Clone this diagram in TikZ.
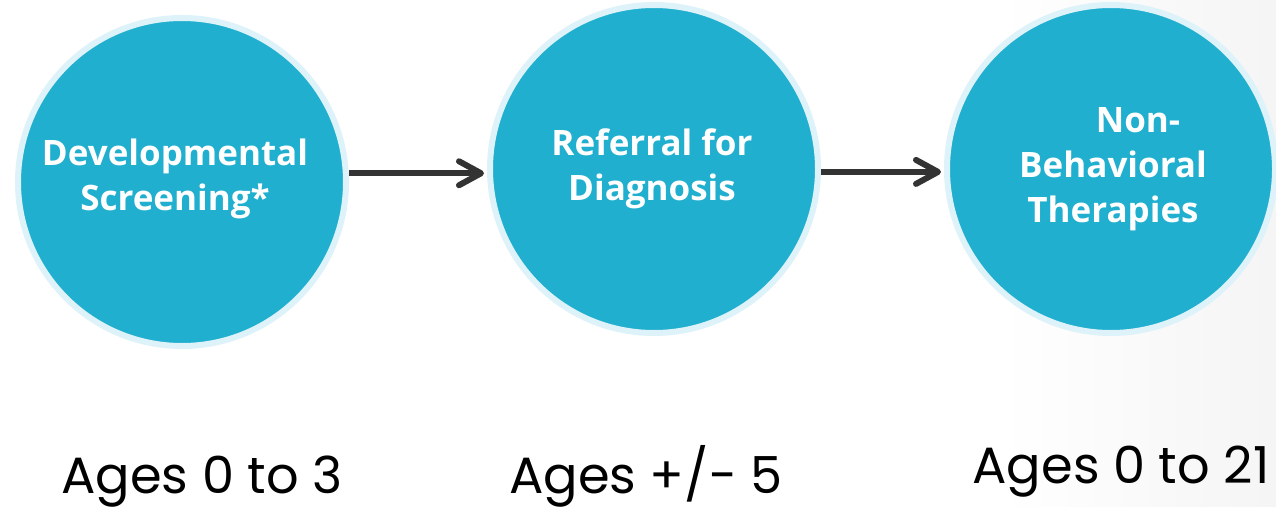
\documentclass[tikz,border=0pt]{standalone}
\usepackage{fontspec}
\setmainfont{Lato}
\newfontfamily\circfont{Open Sans}
\newfontfamily\agesfont{Poppins}
\usetikzlibrary{arrows.meta,calc}
\definecolor{cblue}{RGB}{33,175,207}
\definecolor{cring}{RGB}{221,243,249}
\definecolor{carrow}{RGB}{51,51,51}
\tikzset{
  stepcircle/.style={circle, fill=cblue, draw=cring, line width=6pt, minimum size=328pt, inner sep=0pt},
  circtext/.style={text=white, align=center, inner sep=0pt, anchor=base, font={\circfont\bfseries\fontsize{35}{45}\selectfont}},
  agestext/.style={text=black, inner sep=0pt, anchor=base, font={\agesfont\fontsize{51}{60}\selectfont}},
  conn/.style={draw=carrow, line width=6pt, -{Straight Barb[length=22pt,width=24pt,round]}, shorten >=3pt}
}
\begin{document}
\begin{tikzpicture}[x=1pt,y=-1pt]
\useasboundingbox (0,0) rectangle (1276,506);
\fill[white] (0,0) rectangle (1276,506);
\shade[left color=white, right color=black!4] (1000,0) rectangle (1276,506);
\node[stepcircle] (c1) at (182,182) {};
\node[stepcircle] (c2) at (654,169) {};
\node[stepcircle] (c3) at (1111,169) {};
\node[circtext] (t1) at (175,210) {Developmental\\Screening*};
\node[circtext] (t2) at (652,200) {Referral for\\Diagnosis};
\node[circtext] (t3) at (1113,222) {\hspace*{50pt}Non-\\Behavioral\\Therapies};
\draw[conn] (c1.3) -- (c1.3 -| c2.west);
\draw[conn] (c2.-1) -- (c2.-1 -| c3.west);
\node[agestext] (a1) at (202,493) {Ages 0 to 3};
\node[agestext] (a2) at (646,493) {Ages +/- 5};
\node[agestext] (a3) at (1121,483) {Ages 0 to 21};
\end{tikzpicture}
\end{document}
